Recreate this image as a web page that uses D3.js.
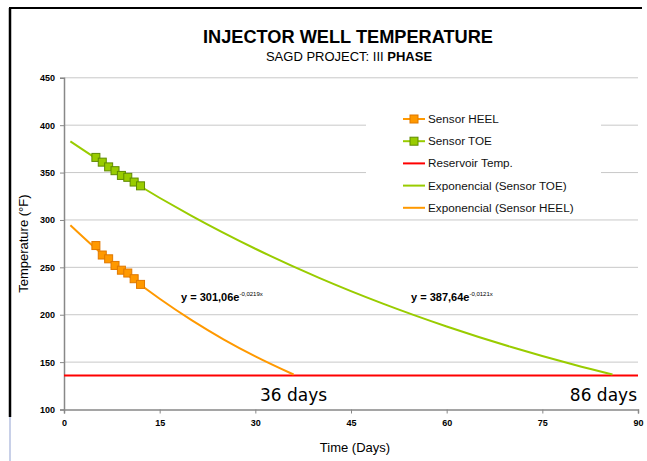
<!DOCTYPE html>
<html>
<head>
<meta charset="utf-8">
<script src="https://cdn.jsdelivr.net/npm/d3@7"></script>
<style>
  body { margin: 0; background: #fff; }
  svg { display: block; font-family: "Liberation Sans", Arial, sans-serif; }
</style>
</head>
<body>
<svg width="647" height="461"></svg>
<script>
// Данные графика
const sensorDays = [5, 6, 7, 8, 9, 10, 11, 12];
const heelTemps = [273, 263, 259, 252, 247, 244, 238, 232];
const toeTemps = [366, 361, 356, 352, 347, 345, 340, 336];

// Точки линий тренда
const heelTrendDays = [1, 5, 10, 15, 20, 25, 30, 36];
const heelTrendTemps = [294.5, 269.8, 241.9, 216.8, 194.3, 174.1, 156.1, 136.9];
const toeTrendDays = [1, 10, 20, 30, 40, 50, 60, 70, 80, 86];
const toeTrendTemps = [383.0, 343.5, 304.3, 269.6, 238.9, 211.7, 187.6, 166.2, 147.2, 136.9];

const reservoirTemp = 136;
const xTicks = [0, 15, 30, 45, 60, 75, 90];
const yTicks = [100, 150, 200, 250, 300, 350, 400, 450];

const legendItems = [
  { label: "Sensor HEEL", color: "#ff9900", stroke: "#e07800", marker: true },
  { label: "Sensor TOE", color: "#99cc00", stroke: "#5f8a00", marker: true },
  { label: "Reservoir Temp.", color: "#ff0000", marker: false },
  { label: "Exponencial (Sensor TOE)", color: "#99cc00", marker: false },
  { label: "Exponencial (Sensor HEEL)", color: "#ff9900", marker: false }
];

const svg = d3.select("svg");

// Рамка картинки
svg.append("line").attr("x1", 9).attr("y1", 8).attr("x2", 642).attr("y2", 8)
  .attr("stroke", "#000").attr("stroke-width", 2);
svg.append("line").attr("x1", 10).attr("y1", 8).attr("x2", 10).attr("y2", 417)
  .attr("stroke", "#000").attr("stroke-width", 2.5);
svg.append("line").attr("x1", 10).attr("y1", 417).attr("x2", 10).attr("y2", 461)
  .attr("stroke", "#c8d0e8").attr("stroke-width", 2);

// Масштабы
const x = d3.scaleLinear().domain([0, 90]).range([64, 638]);
const y = d3.scaleLinear().domain([100, 450]).range([409.5, 77.8]);

// Сетка
svg.append("g").selectAll("line").data(yTicks.filter(d => d > 100)).join("line")
  .attr("x1", x(0)).attr("x2", x(90))
  .attr("y1", d => y(d)).attr("y2", d => y(d))
  .attr("stroke", "#c8c8c8").attr("stroke-width", 1);

// Оси
const yAxis = svg.append("g").attr("transform", `translate(${x(0)},0)`)
  .call(d3.axisLeft(y).tickValues(yTicks).tickSize(4).tickPadding(5));
const xAxis = svg.append("g").attr("transform", `translate(0,${y(100)})`)
  .call(d3.axisBottom(x).tickValues(xTicks).tickSize(4).tickPadding(6));
[xAxis, yAxis].forEach(a => {
  a.select(".domain").attr("stroke", "#888").attr("stroke-width", 1.5);
  a.selectAll(".tick line").attr("stroke", "#888");
  a.selectAll(".tick text").attr("fill", "#000").style("font-size", "9px")
    .style("font-weight", "bold").style("font-family", "'Liberation Sans', Arial, sans-serif");
});

// Белая подложка легенды поверх сетки
svg.append("rect").attr("x", 366).attr("y", 95).attr("width", 235).attr("height", 121)
  .attr("fill", "#fff");

const line = d3.line().x(d => x(d[0])).y(d => y(d[1])).curve(d3.curveMonotoneX);

// Температура пласта
svg.append("line").attr("x1", x(0)).attr("x2", x(90))
  .attr("y1", y(reservoirTemp)).attr("y2", y(reservoirTemp))
  .attr("stroke", "#ff0000").attr("stroke-width", 2);

// Линии тренда
svg.append("path").attr("d", line(d3.zip(toeTrendDays, toeTrendTemps)))
  .attr("fill", "none").attr("stroke", "#99cc00").attr("stroke-width", 2);
svg.append("path").attr("d", line(d3.zip(heelTrendDays, heelTrendTemps)))
  .attr("fill", "none").attr("stroke", "#ff9900").attr("stroke-width", 2);

// Маркеры датчиков
function drawSensor(temps, color, stroke) {
  const pts = d3.zip(sensorDays, temps);
  svg.append("path").attr("d", d3.line().x(d => x(d[0])).y(d => y(d[1]))(pts))
    .attr("fill", "none").attr("stroke", color).attr("stroke-width", 2);
  svg.append("g").selectAll("rect").data(pts).join("rect")
    .attr("x", d => x(d[0]) - 4).attr("y", d => y(d[1]) - 4)
    .attr("width", 8).attr("height", 8)
    .attr("fill", color).attr("stroke", stroke).attr("stroke-width", 1);
}
drawSensor(heelTemps, "#ff9900", "#e07800");
drawSensor(toeTemps, "#99cc00", "#5f8a00");

// Легенда
const legend = svg.append("g");
legendItems.forEach((item, i) => {
  const ly = 119 + i * 22.2;
  legend.append("line").attr("x1", 403).attr("x2", 425).attr("y1", ly).attr("y2", ly)
    .attr("stroke", item.color).attr("stroke-width", 2);
  if (item.marker) {
    legend.append("rect").attr("x", 410).attr("y", ly - 4).attr("width", 8).attr("height", 8)
      .attr("fill", item.color).attr("stroke", item.stroke);
  }
  legend.append("text").attr("x", 428).attr("y", ly + 4)
    .style("font-size", "11.7px").attr("fill", "#111").text(item.label);
});

// Уравнения трендов
function equation(tx, ty, base, exp) {
  const t = svg.append("text").attr("x", tx).attr("y", ty)
    .style("font-size", "11px").style("font-weight", "bold");
  t.append("tspan").text(base);
  t.append("tspan").attr("dy", -5).style("font-size", "6px").style("font-weight", "normal").text(exp);
}
equation(181, 301, "y = 301,06e", "-0,0219x");
equation(411, 301, "y = 387,64e", "-0,0121x");

// Подписи дней
svg.append("text").attr("x", x(36)).attr("y", 401).attr("text-anchor", "middle")
  .style("font-size", "17px").style("font-family", "'DejaVu Sans', sans-serif").text("36 days");
svg.append("text").attr("x", 637).attr("y", 401).attr("text-anchor", "end")
  .style("font-size", "17px").style("font-family", "'DejaVu Sans', sans-serif").text("86 days");

// Заголовки
svg.append("text").attr("x", 348).attr("y", 43).attr("text-anchor", "middle")
  .style("font-size", "18.2px").style("font-weight", "bold").text("INJECTOR WELL TEMPERATURE");
const sub = svg.append("text").attr("x", 349).attr("y", 61).attr("text-anchor", "middle")
  .style("font-size", "13px");
sub.append("tspan").text("SAGD PROJECT: III ");
sub.append("tspan").style("font-weight", "bold").text("PHASE");

// Подписи осей
svg.append("text").attr("transform", `translate(28,${y(275)}) rotate(-90)`)
  .attr("text-anchor", "middle").style("font-size", "13px").text("Temperature (°F)");
svg.append("text").attr("x", 355).attr("y", 452).attr("text-anchor", "middle")
  .style("font-size", "13px").text("Time (Days)");
</script>
</body>
</html>
